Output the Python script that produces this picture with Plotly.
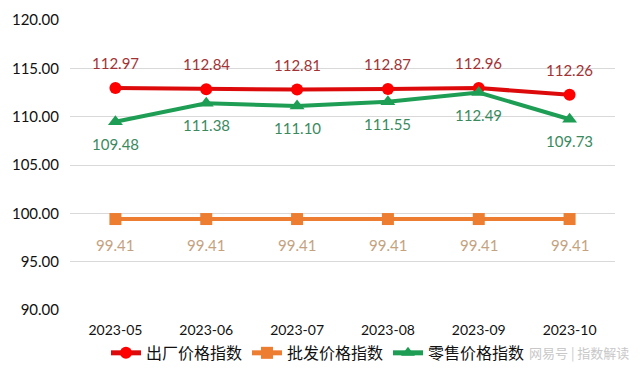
import plotly.graph_objects as go

months = ["2023-05", "2023-06", "2023-07", "2023-08", "2023-09", "2023-10"]
factory = [112.97, 112.84, 112.81, 112.87, 112.96, 112.26]
wholesale = [99.41, 99.41, 99.41, 99.41, 99.41, 99.41]
retail = [109.48, 111.38, 111.10, 111.55, 112.49, 109.73]
names = ["出厂价格指数", "批发价格指数", "零售价格指数"]

lab_font = "Lato, 'Noto Sans CJK SC', sans-serif"

series = [
    (names[0], factory, "#DC0A0A", "#FF0000", "circle", 12, "#A33234", 25),
    (names[1], wholesale, "#ED7D31", "#ED7D31", "square", 12, "#C4A27F", -26),
    (names[2], retail, "#1E9E55", "#1E9E55", "triangle-up", 13, "#3A8A5E", -22),
]

fig = go.Figure()
for name, vals, lc, mc, sym, ms, tc, shift in series:
    fig.add_trace(go.Scatter(
        x=months, y=vals, name=name, mode="lines+markers",
        line=dict(color=lc, width=4),
        marker=dict(symbol=sym, size=ms, color=mc),
    ))
    for m, v in zip(months, vals):
        fig.add_annotation(x=m, y=v, text=f"{v:.2f}", showarrow=False,
                           yshift=shift, xanchor="center", yanchor="middle",
                           font=dict(color=tc, size=15, family=lab_font))

fig.add_annotation(text="网易号 | 指数解读", xref="paper", yref="paper",
                   x=1.03, y=-0.148, xanchor="right", yanchor="middle",
                   showarrow=False,
                   font=dict(size=13, color="#C8C8C8", family="'Noto Sans CJK SC'"))

fig.update_layout(
    width=642, height=371,
    margin=dict(l=70, r=27, t=20, b=61, autoexpand=False),
    paper_bgcolor="white", plot_bgcolor="white",
    font=dict(family=lab_font, color="#222222"),
    xaxis=dict(type="category", range=[-0.5, 5.5], showgrid=False, showline=False,
               zeroline=False, ticks="", ticklabelstandoff=10,
               tickfont=dict(size=14, color="#111111"), fixedrange=True),
    yaxis=dict(range=[90, 120], dtick=5, tickformat=".2f", showgrid=True,
               gridcolor="#D9D9D9", gridwidth=1, zeroline=False, showline=False,
               ticks="", ticklabelstandoff=10,
               tickfont=dict(size=15, color="#111111"), fixedrange=True),
    legend=dict(orientation="h", x=0.455, xanchor="center", y=-0.148, yanchor="middle",
                font=dict(size=16, family="'Noto Sans CJK SC'", color="#111111"),
                tracegroupgap=0, traceorder="normal", itemsizing="constant"),
    showlegend=True,
)

fig.write_html("out.html", config={"displayModeBar": False},
               post_script="document.body.style.margin='0';")
